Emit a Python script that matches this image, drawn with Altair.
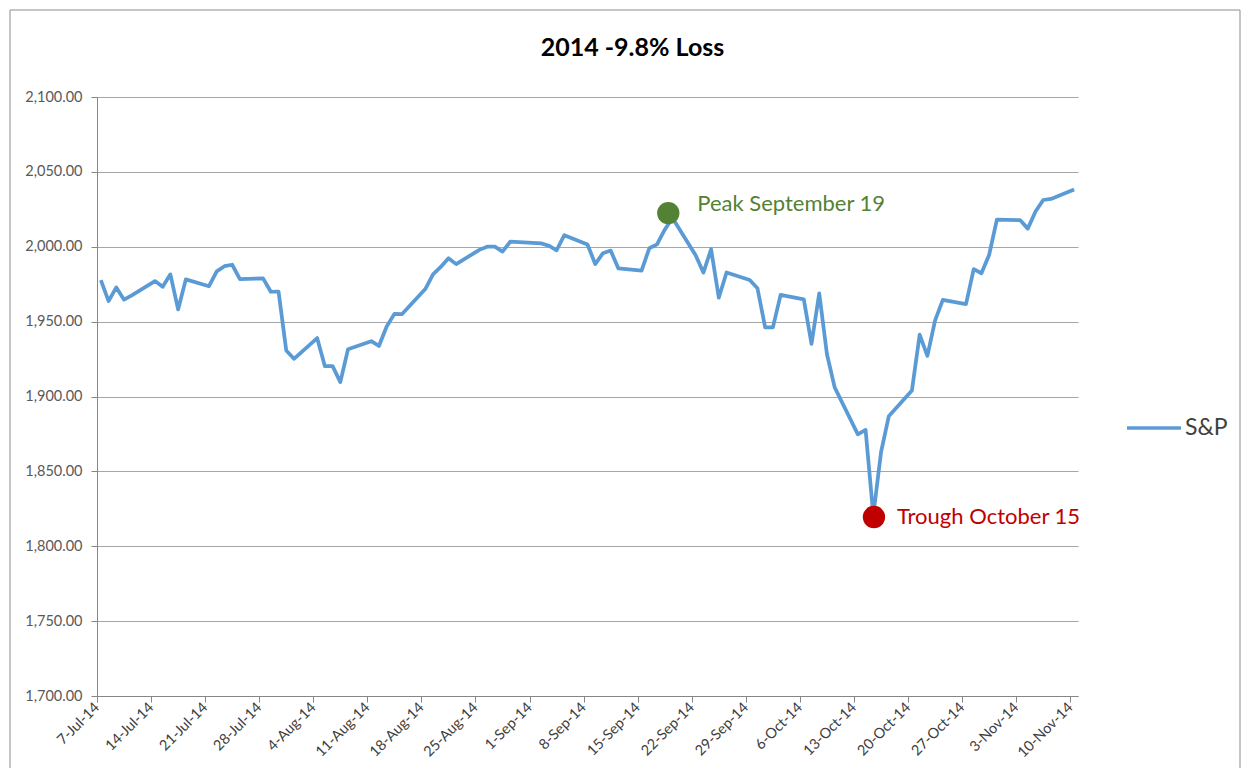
import altair as alt
import pandas as pd

# ---- data (S&P daily values) ----
dates = [
    "2014-07-07", "2014-07-08", "2014-07-09", "2014-07-10", "2014-07-11",
    "2014-07-14", "2014-07-15", "2014-07-16", "2014-07-17", "2014-07-18",
    "2014-07-21", "2014-07-22", "2014-07-23", "2014-07-24", "2014-07-25",
    "2014-07-28", "2014-07-29", "2014-07-30", "2014-07-31", "2014-08-01",
    "2014-08-04", "2014-08-05", "2014-08-06", "2014-08-07", "2014-08-08",
    "2014-08-11", "2014-08-12", "2014-08-13", "2014-08-14", "2014-08-15",
    "2014-08-18", "2014-08-19", "2014-08-20", "2014-08-21", "2014-08-22",
    "2014-08-25", "2014-08-26", "2014-08-27", "2014-08-28", "2014-08-29",
    "2014-09-02", "2014-09-03", "2014-09-04", "2014-09-05",
    "2014-09-08", "2014-09-09", "2014-09-10", "2014-09-11", "2014-09-12",
    "2014-09-15", "2014-09-16", "2014-09-17", "2014-09-18", "2014-09-19",
    "2014-09-22", "2014-09-23", "2014-09-24", "2014-09-25", "2014-09-26",
    "2014-09-29", "2014-09-30", "2014-10-01", "2014-10-02", "2014-10-03",
    "2014-10-06", "2014-10-07", "2014-10-08", "2014-10-09", "2014-10-10",
    "2014-10-13", "2014-10-14", "2014-10-15", "2014-10-16", "2014-10-17",
    "2014-10-20", "2014-10-21", "2014-10-22", "2014-10-23", "2014-10-24",
    "2014-10-27", "2014-10-28", "2014-10-29", "2014-10-30", "2014-10-31",
    "2014-11-03", "2014-11-04", "2014-11-05", "2014-11-06", "2014-11-07",
    "2014-11-10",
]
values = [
    1977.65, 1963.71, 1972.83, 1964.68, 1967.57,
    1977.10, 1973.28, 1981.57, 1958.12, 1978.22,
    1973.63, 1983.53, 1987.01, 1987.98, 1978.34,
    1978.91, 1969.95, 1970.07, 1930.67, 1925.15,
    1938.99, 1920.21, 1920.24, 1909.57, 1931.59,
    1936.92, 1933.75, 1946.72, 1955.18, 1955.06,
    1971.74, 1981.60, 1986.51, 1992.37, 1988.40,
    1997.92, 2000.02, 2000.12, 1996.74, 2003.37,
    2002.28, 2000.72, 1997.65, 2007.71,
    2001.54, 1988.44, 1995.69, 1997.45, 1985.54,
    1984.13, 1998.98, 2001.57, 2011.36, 2019.26,
    1994.29, 1982.77, 1998.30, 1965.99, 1982.85,
    1977.80, 1972.29, 1946.16, 1946.17, 1967.90,
    1964.82, 1935.10, 1968.89, 1928.21, 1906.13,
    1874.74, 1877.70, 1820.66, 1862.76, 1886.76,
    1904.01, 1941.28, 1927.11, 1950.82, 1964.58,
    1961.63, 1985.05, 1982.30, 1994.65, 2018.05,
    2017.81, 2012.10, 2023.57, 2031.21, 2031.92,
    2038.26,
]
series_name = "S&P"

ann_labels = ["Peak September 19", "Trough October 15"]
ann_dates = ["2014-09-18T23:00:00", "2014-10-15T14:00:00"]
ann_values = [2022.5, 1819.5]
ann_colors = ["#548235", "#C00000"]

tick_dates = [
    (7, 7), (7, 14), (7, 21), (7, 28), (8, 4), (8, 11), (8, 18), (8, 25),
    (9, 1), (9, 8), (9, 15), (9, 22), (9, 29), (10, 6), (10, 13), (10, 20),
    (10, 27), (11, 3), (11, 10),
]
y_ticks = [1700, 1750, 1800, 1850, 1900, 1950, 2000, 2050, 2100]
title_text = "2014 -9.8% Loss"

FONT = "Lato"

# Excel date axis: each day is a band, points sit at the band centre
line_df = pd.DataFrame({
    "date": [d + "T12:00:00" for d in dates],
    "value": values,
    "series": [series_name] * len(dates),
})
ann_df = pd.DataFrame({
    "date": ann_dates,
    "value": ann_values,
    "label": ann_labels,
    "color": ann_colors,
})

x_scale = alt.Scale(
    domain=[alt.DateTime(year=2014, month=7, date=7),
            alt.DateTime(year=2014, month=11, date=11)],
    nice=False,
)
y_scale = alt.Scale(domain=[1700, 2100], nice=False, zero=False)

x_axis = alt.Axis(
    values=[alt.DateTime(year=2014, month=m, date=d) for m, d in tick_dates],
    format="%-d-%b-%y",
    labelAngle=315,
    labelAlign="right",
    labelBaseline="middle",
    labelFont=FONT,
    labelFontSize=14.5,
    labelColor="#404040",
    labelPadding=3,
    tickSize=6,
    tickColor="#868686",
    domainColor="#868686",
    grid=False,
    title=None,
    labelOverlap=False,
)
y_axis = alt.Axis(
    values=y_ticks,
    format=",.2f",
    labelFont=FONT,
    labelFontSize=14.5,
    labelColor="#595959",
    labelPadding=9,
    tickSize=6,
    tickColor="#868686",
    domainColor="#868686",
    gridColor="#a6a6a6",
    gridWidth=1,
    title=None,
)

frame = alt.Chart(pd.DataFrame({"k": [0]})).mark_rect(
    filled=False, stroke="#8c8c8c", strokeWidth=1
).encode(
    x=alt.value(-87), x2=alt.value(1143), y=alt.value(-87), y2=alt.value(720)
)

line = alt.Chart(line_df).mark_line(strokeWidth=3.75, strokeJoin="round").encode(
    x=alt.X("date:T", scale=x_scale, axis=x_axis),
    y=alt.Y("value:Q", scale=y_scale, axis=y_axis),
    color=alt.Color(
        "series:N",
        scale=alt.Scale(domain=[series_name], range=["#5B9BD5"]),
        legend=alt.Legend(
            orient="none",
            legendX=1028,
            legendY=302,
            title=None,
            symbolType="stroke",
            symbolStrokeWidth=3.5,
            symbolSize=2916,
            labelFont=FONT,
            labelFontSize=23,
            labelColor="#404040",
            labelOffset=2,
        ),
    ),
)

dots = alt.Chart(ann_df).mark_circle(size=500, opacity=1).encode(
    x=alt.X("date:T", scale=x_scale),
    y=alt.Y("value:Q", scale=y_scale),
    color=alt.Color("color:N", scale=None, legend=None),
)

peak_text = alt.Chart(ann_df.iloc[[0]]).mark_text(
    align="left", baseline="middle", dx=29, dy=-9, font=FONT, fontSize=22
).encode(
    x=alt.X("date:T", scale=x_scale),
    y=alt.Y("value:Q", scale=y_scale),
    text="label:N",
    color=alt.Color("color:N", scale=None, legend=None),
)
trough_text = alt.Chart(ann_df.iloc[[1]]).mark_text(
    align="left", baseline="middle", dx=23, dy=0, font=FONT, fontSize=22
).encode(
    x=alt.X("date:T", scale=x_scale),
    y=alt.Y("value:Q", scale=y_scale),
    text="label:N",
    color=alt.Color("color:N", scale=None, legend=None),
)

chart = alt.layer(frame, line, dots, peak_text, trough_text).properties(
    width=981,
    height=599,
    padding={"left": 89, "top": 89, "right": 168, "bottom": 72},
    autosize=alt.AutoSizeParams(type="none"),
    title=alt.TitleParams(
        title_text,
        font=FONT,
        fontSize=25,
        fontWeight="bold",
        color="#000000",
        anchor="middle",
        baseline="alphabetic",
        dx=45,
        offset=-71,
    ),
    background="white",
).configure_view(stroke=None)

chart.save("out.html", embed_options={"renderer": "svg", "actions": False})
